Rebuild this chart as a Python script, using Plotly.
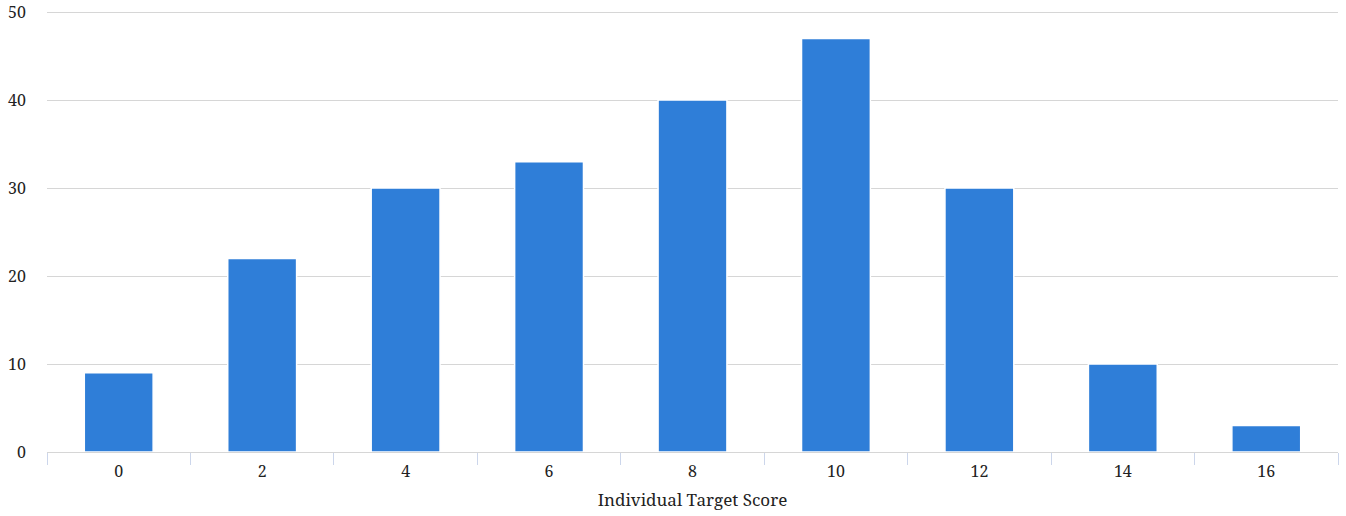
import plotly.graph_objects as go

categories = ["0", "2", "4", "6", "8", "10", "12", "14", "16"]
counts = [9, 22, 30, 33, 40, 47, 30, 10, 3]
y_ticks = [0, 10, 20, 30, 40, 50]
x_title = "Individual Target Score"

font_family = "Roboto Slab, Noto Serif, DejaVu Serif, serif"

fig = go.Figure(go.Bar(
    x=categories, y=counts,
    marker=dict(color="#2F7ED8", line=dict(color="#ffffff", width=1.5)),
))

fig.update_layout(
    width=1346, height=516,
    margin=dict(l=47, r=8, t=11, b=64),
    paper_bgcolor="white", plot_bgcolor="white",
    bargap=0.52,
    showlegend=False,
    font=dict(family=font_family, size=16, color="#222222"),
)
fig.update_xaxes(
    type="category",
    automargin=False,
    tickson="boundaries",
    ticks="outside", ticklen=12, tickcolor="#ccd6eb", tickwidth=1,
    showgrid=False, showline=False,
    tickfont=dict(size=16, family=font_family, color="#222222"),
    ticklabelstandoff=8,
    title=dict(text=x_title, font=dict(size=17, family=font_family, color="#222222"), standoff=13),
)
fig.update_yaxes(
    automargin=False,
    range=[0, 50.12], tickvals=y_ticks,
    showgrid=True, gridcolor="#d6d6d6", gridwidth=1,
    zeroline=True, zerolinecolor="#d6d6d6", zerolinewidth=1,
    showline=False, ticks="",
    tickfont=dict(size=16, family=font_family, color="#222222"),
    ticklabelstandoff=20,
    ticklabeloverflow="allow",
)

fig.write_html(
    "out.html",
    config={"displayModeBar": False},
    post_script="document.body.style.margin='0';document.body.style.overflow='hidden';",
)
